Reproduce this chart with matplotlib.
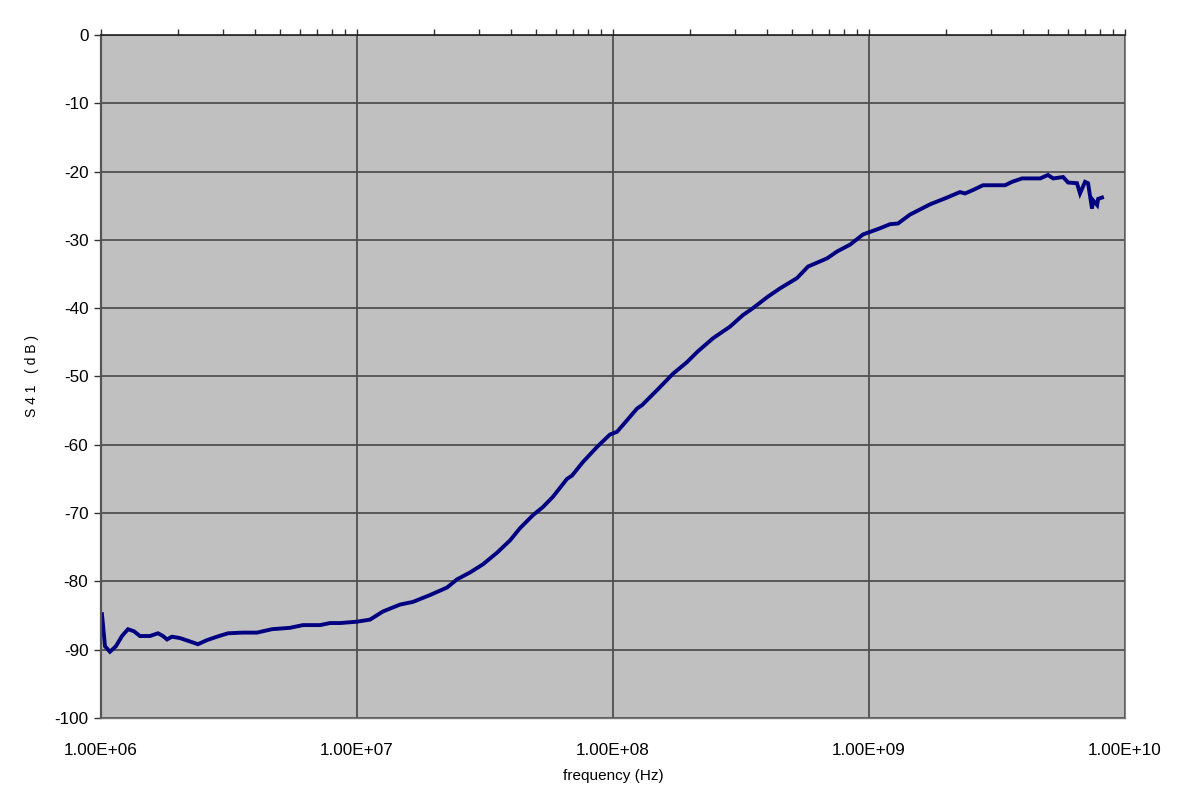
import matplotlib
matplotlib.use("Agg")
import matplotlib.pyplot as plt
from matplotlib.ticker import FuncFormatter, LogLocator, MultipleLocator

plt.rcParams.update(
    {
        "font.family": ["Liberation Sans", "DejaVu Sans"],
        "axes.unicode_minus": False,
    }
)

# S41 transmission
freq_hz = [
    1.009e6, 1.037e6, 1.084e6, 1.144e6, 1.208e6, 1.275e6, 1.345e6, 1.42e6,
    1.553e6, 1.670e6, 1.747e6, 1.811e6, 1.893e6, 2.035e6, 2.228e6, 2.392e6,
    2.595e6, 2.838e6, 3.134e6, 3.586e6, 4.068e6, 4.656e6, 5.47e6, 6.15e6,
    7.17e6, 7.85e6, 8.59e6, 1.0e7, 1.124e7, 1.264e7, 1.472e7, 1.655e7,
    1.928e7, 2.248e7, 2.459e7, 2.762e7, 3.105e7, 3.524e7, 3.961e7, 4.335e7,
    4.87e7, 5.33e7, 5.83e7, 6.61e7, 6.92e7, 7.64e7, 8.67e7, 9.73e7,
    1.037e8, 1.135e8, 1.241e8, 1.298e8, 1.486e8, 1.715e8, 1.945e8, 2.148e8,
    2.459e8, 2.865e8, 3.22e8, 3.52e8, 4.03e8, 4.49e8, 5.23e8, 5.78e8,
    6.86e8, 7.50e8, 8.43e8, 9.48e8, 1.104e9, 1.208e9, 1.298e9, 1.445e9,
    1.730e9, 2.018e9, 2.265e9, 2.371e9, 2.547e9, 2.786e9, 3.40e9, 3.62e9,
    3.96e9, 4.66e9, 5.00e9, 5.24e9, 5.73e9, 5.99e9, 6.49e9, 6.67e9,
    6.98e9, 7.17e9, 7.43e9, 7.50e9, 7.78e9, 7.85e9, 8.13e9,
]
s41_db = [
    -84.8, -89.5, -90.3, -89.5, -88.0, -87.0, -87.3, -88.0,
    -88.0, -87.6, -88.0, -88.5, -88.1, -88.3, -88.8, -89.2,
    -88.6, -88.1, -87.6, -87.5, -87.5, -87.0, -86.8, -86.4,
    -86.4, -86.1, -86.1, -85.9, -85.6, -84.4, -83.4, -83.0,
    -82.0, -80.9, -79.7, -78.7, -77.5, -75.8, -74.0, -72.2,
    -70.3, -69.1, -67.6, -65.0, -64.5, -62.5, -60.3, -58.5,
    -58.1, -56.4, -54.7, -54.2, -52.0, -49.6, -47.9, -46.3,
    -44.4, -42.7, -41.0, -40.0, -38.3, -37.1, -35.6, -33.9,
    -32.7, -31.7, -30.7, -29.2, -28.3, -27.7, -27.6, -26.3,
    -24.8, -23.8, -23.0, -23.2, -22.7, -22.0, -22.0, -21.5,
    -21.0, -21.0, -20.5, -21.0, -20.8, -21.6, -21.7, -23.2,
    -21.5, -21.7, -25.4, -24.2, -24.9, -24.0, -23.8,
]

GRID = "#505050"

fig = plt.figure(figsize=(11.85, 8.1), dpi=100)
ax = fig.add_axes([0.0852, 0.1136, 0.8642, 0.8432])
ax.set_facecolor("#c0c0c0")

ax.plot(freq_hz, s41_db, color="#000080", linewidth=2.8, solid_joinstyle="miter")

ax.set_xscale("log")
ax.set_xlim(1e6, 1e10)
ax.set_ylim(-100, 0)
ax.yaxis.set_major_locator(MultipleLocator(10))
ax.xaxis.set_major_locator(LogLocator(base=10))
ax.xaxis.set_minor_locator(LogLocator(base=10, subs=range(2, 10)))
ax.xaxis.set_major_formatter(FuncFormatter(lambda v, _: f"{v:.2E}"))

ax.grid(True, which="major", color=GRID, linewidth=1.3)
ax.set_axisbelow(True)

# Excel-style: axis line sits at 0 dB (top), labels stay at the bottom
ax.tick_params(axis="x", which="both", top=True, bottom=False, labeltop=False,
               labelbottom=True, direction="out", length=4, width=1,
               color="#333333", pad=14, labelsize=12.3)
ax.tick_params(axis="x", which="minor", labelbottom=False)
ax.tick_params(axis="y", direction="out", length=5, width=1, color="#333333",
               pad=4, labelsize=12.3)

ax.spines["top"].set_color("#222222")
ax.spines["top"].set_linewidth(1.2)
ax.spines["left"].set_color("#555555")
ax.spines["left"].set_linewidth(1.6)
ax.spines["bottom"].set_color("#777777")
ax.spines["bottom"].set_linewidth(1.0)
ax.spines["right"].set_color("#888888")
ax.spines["right"].set_linewidth(0.8)

ax.set_xlabel("frequency (Hz)", fontsize=11, labelpad=8)
ax.set_ylabel("S 4 1   ( d B )", fontsize=10, labelpad=11)

fig.savefig("out.png", dpi=100)
